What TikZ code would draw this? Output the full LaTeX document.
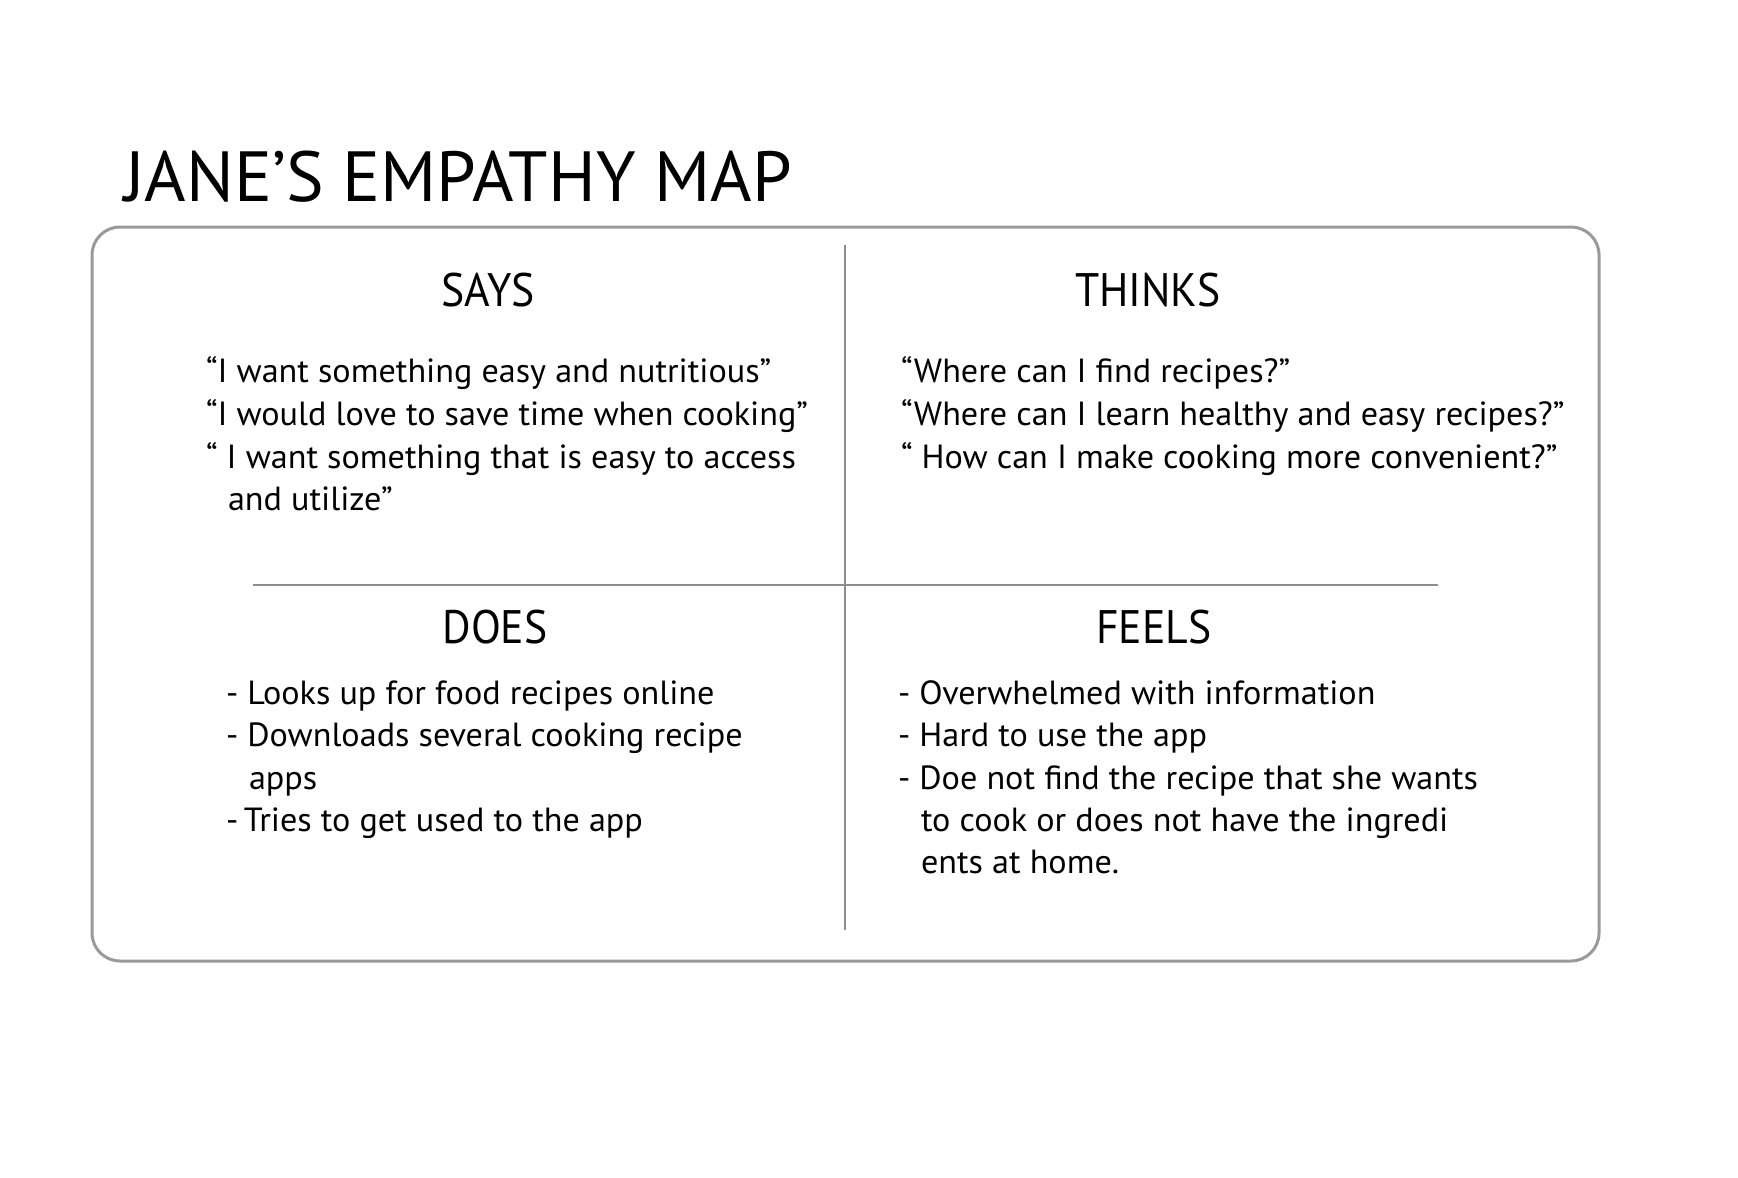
\documentclass[tikz,border=0pt]{standalone}
\usepackage{fontspec}
\setmainfont{PT Sans}
\newfontfamily\bodyfam{PT Sans}[FakeStretch=1.02]
\newfontfamily\headfam{PT Sans}[FakeStretch=0.93]
\newcommand\titlefont{\fontsize{71}{80}\selectfont}
\newcommand\headfont{\headfam\fontsize{47}{52}\selectfont}
\newcommand\bodyfont{\bodyfam\fontsize{33.5}{40}\selectfont}
\definecolor{framegray}{HTML}{9A9A9A}
\definecolor{divgray}{HTML}{8E8E8E}
\tikzset{
  body/.style={anchor=base west, font=\bodyfont, inner sep=0pt, outer sep=0pt},
  head/.style={anchor=base, font=\headfont, inner sep=0pt},
  frame/.style={draw=framegray, line width=3pt, rounded corners=28pt},
  divider/.style={draw=divgray, line width=2.4pt}
}
\begin{document}
\begin{tikzpicture}[x=1pt, y=-1pt]
\useasboundingbox (0,0) rectangle (1738,1178);
\fill[white] (0,0) rectangle (1738,1178);
% title
\node[anchor=base west, font=\titlefont, inner sep=0pt] (title) at (124,201) {JANE’S EMPATHY MAP};
% frame
\draw[frame] (92,227) rectangle (1599,961);
% dividers
\coordinate (vtop) at (845,245);
\coordinate (vbot) at (845,930);
\coordinate (hl) at (253,585);
\coordinate (hr) at (1438,585);
\draw[divider] (vtop) -- (vbot);
\draw[divider] (hl) -- (hr);
% headers
\node[head] (says) at (488,306) {SAYS};
\node[head] (thinks) at (1148,306) {THINKS};
\node[head] (does) at (495,643) {DOES};
\node[head] (feels) at (1154,643) {FEELS};
% says
\node[body] (s1) at (206,382) {“I want something easy and nutritious”};
\node[body] (s2) at (206,425) {“I would love to save time when cooking”};
\node[body] (s3) at (206,468) {“ I want something that is easy to access};
\node[body] (s4) at (228,510) {and utilize”};
% thinks
\node[body] (t1) at (901,382) {“Where can I find recipes?”};
\node[body] (t2) at (901,425) {“Where can I learn healthy and easy recipes?”};
\node[body] (t3) at (901,468) {“ How can I make cooking more convenient?”};
% does
\node[body] (d1) at (226,704) {- Looks up for food recipes online};
\node[body] (d2) at (226,746) {- Downloads several cooking recipe};
\node[body] (d3) at (249,789) {apps};
\node[body] (d4) at (226,831) {-\,Tries to get used to the app};
% feels
\node[body] (f1) at (898,704) {- Overwhelmed with information};
\node[body] (f2) at (898,746) {- Hard to use the app};
\node[body] (f3) at (898,789) {- Doe not find the recipe that she wants};
\node[body] (f4) at (921,831) {to cook or does not have the ingredi};
\node[body] (f5) at (921,873) {ents at home.};
\end{tikzpicture}
\end{document}
